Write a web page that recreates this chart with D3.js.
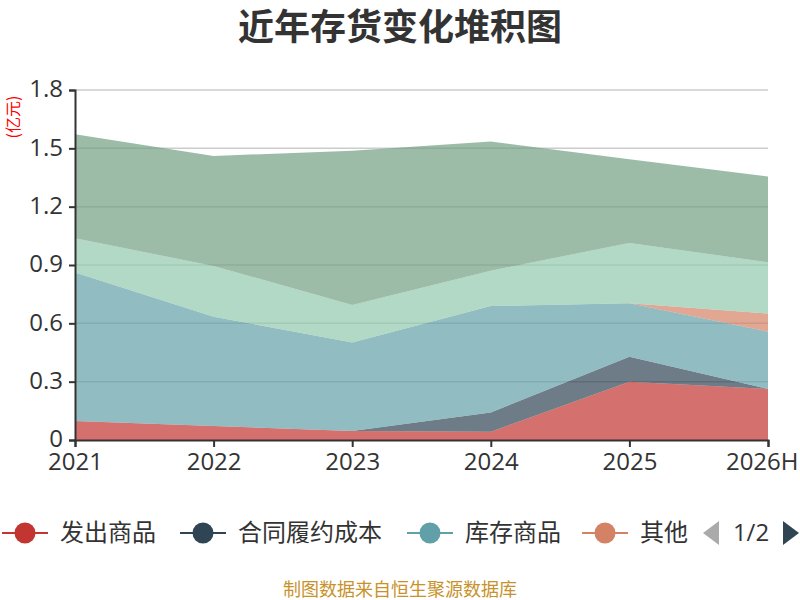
<!DOCTYPE html>
<html>
<head>
<meta charset="utf-8">
<script src="https://cdn.jsdelivr.net/npm/d3@7"></script>
<style>
  body { margin: 0; background: #fff; }
  svg { font-family: "Noto Sans CJK SC", "Open Sans", sans-serif; }
</style>
</head>
<body>
<svg id="chart" width="800" height="600"></svg>
<script>
// 数据（亿元）
const years = ['2021', '2022', '2023', '2024', '2025', '2026H']
const seriesNames = ['发出商品', '合同履约成本', '库存商品', '其他', '原材料', '在产品']
const fachu = [0.098, 0.072, 0.046, 0.043, 0.300, 0.262]
const hetong = [0, 0, 0, 0.099, 0.128, 0]
const kucun = [0.763, 0.562, 0.456, 0.547, 0.275, 0.295]
const qita = [0, 0, 0, 0, 0, 0.093]
const yuancailiao = [0.176, 0.261, 0.192, 0.182, 0.310, 0.264]
const zaichan = [0.535, 0.566, 0.793, 0.664, 0.431, 0.441]
const yTicks = [0, 0.3, 0.6, 0.9, 1.2, 1.5, 1.8]
const colors = ['#c23531', '#2f4554', '#61a0a8', '#d48265', '#91c7ae', '#749f83']

const seriesValues = [fachu, hetong, kucun, qita, yuancailiao, zaichan]
const rows = years.map((y, i) => {
  const r = { year: y }
  seriesNames.forEach((n, k) => { r[n] = seriesValues[k][i] })
  return r
})

const margin = { left: 75, right: 32, top: 90, bottom: 160 }
const svg = d3.select('#chart')
const W = 800, H = 600
const x = d3.scalePoint().domain(years).range([margin.left, W - margin.right])
const y = d3.scaleLinear().domain([0, 1.8]).range([H - margin.bottom, margin.top])

// 标题
svg.append('text').attr('x', 400).attr('y', 40).attr('text-anchor', 'middle')
  .attr('font-size', 36).attr('font-weight', 'bold').attr('fill', '#333')
  .text('近年存货变化堆积图')

// 网格
svg.append('g').selectAll('line').data(yTicks.slice(1)).join('line')
  .attr('x1', margin.left).attr('x2', W - margin.right)
  .attr('y1', d => y(d)).attr('y2', d => y(d))
  .attr('stroke', '#ccc').attr('stroke-width', 1.5)

// 面积
const stack = d3.stack().keys(seriesNames)(rows)
const area = d3.area().x(d => x(d.data.year)).y0(d => y(d[0])).y1(d => y(d[1]))
svg.append('g').selectAll('path').data(stack).join('path')
  .attr('d', area)
  .attr('fill', (d, i) => colors[i]).attr('fill-opacity', 0.7)

// 坐标轴
const yAxis = svg.append('g').attr('transform', `translate(${margin.left},0)`)
  .call(d3.axisLeft(y).tickValues(yTicks).tickFormat(d => d === 0 ? '0' : d3.format('.1f')(d)).tickSize(6).tickPadding(6))
const xAxis = svg.append('g').attr('transform', `translate(0,${y(0)})`)
  .call(d3.axisBottom(x).tickSize(7).tickPadding(4))
;[yAxis, xAxis].forEach(a => {
  a.select('.domain').attr('stroke', '#333').attr('stroke-width', 2)
  a.selectAll('.tick line').attr('stroke', '#333').attr('stroke-width', 2)
  a.selectAll('.tick text').attr('fill', '#333').attr('font-size', 24)
    .attr('font-family', '"Open Sans", "Noto Sans", sans-serif')
})
yAxis.selectAll('.tick text').attr('dy', '0.28em')
xAxis.selectAll('.tick text').attr('dy', '0.8em')
// 最后一个标签贴右边
xAxis.selectAll('.tick text').filter(d => d === years[years.length - 1])
  .attr('text-anchor', 'end').attr('x', W - 2 - x(years[years.length - 1]))

// 单位
svg.append('text').attr('transform', 'translate(19,117) rotate(-90)')
  .attr('text-anchor', 'middle').attr('font-size', 16).attr('fill', 'red')
  .text('(亿元)')

// 图例
const legendX = [0, 178, 405, 580]
const legend = svg.append('g').attr('transform', 'translate(0,533)')
const items = legend.selectAll('g').data(seriesNames.slice(0, 4)).join('g')
  .attr('transform', (d, i) => `translate(${legendX[i]},0)`)
items.append('line').attr('x1', 2).attr('x2', 48).attr('stroke', (d, i) => colors[i]).attr('stroke-width', 2)
items.append('circle').attr('cx', 25).attr('r', 10.5).attr('fill', (d, i) => colors[i])
items.append('text').attr('x', 60).attr('dy', '0.35em').attr('font-size', 24).attr('fill', '#333').text(d => d)

legend.append('path').attr('d', 'M719,-12 L719,12 L703,0 Z').attr('fill', '#aaa')
legend.append('text').attr('x', 751).attr('dy', '0.35em').attr('text-anchor', 'middle')
  .attr('font-size', 24).attr('fill', '#333').attr('font-family', '"Open Sans", sans-serif').text('1/2')
legend.append('path').attr('d', 'M783,-12 L783,12 L799,0 Z').attr('fill', '#2f4554')

// 来源
svg.append('text').attr('x', 400).attr('y', 596).attr('text-anchor', 'middle')
  .attr('font-size', 18).attr('fill', '#c8922a').text('制图数据来自恒生聚源数据库')
</script>
</body>
</html>
